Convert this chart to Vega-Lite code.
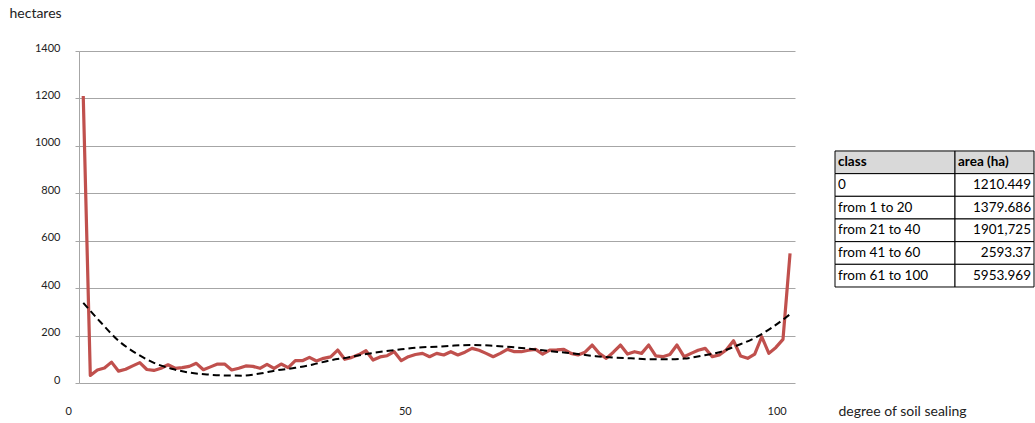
{
  "$schema": "https://vega.github.io/schema/vega-lite/v6.json",
  "autosize": {"type": "pad"},
  "padding": {"left": 9, "top": 6, "right": 0, "bottom": 0},
  "background": "white",
  "bounds": "flush",
  "spacing": 40,
  "config": {
    "view": {"stroke": null},
    "font": "Lato",
    "axis": {"labelFont": "Lato", "titleFont": "Lato"}
  },
  "datasets": {
    "sealing": [
      {"deg": 0, "ha": 1210}, {"deg": 1, "ha": 32}, {"deg": 2, "ha": 55}, {"deg": 3, "ha": 63}, {"deg": 4, "ha": 88},
      {"deg": 5, "ha": 50}, {"deg": 6, "ha": 58}, {"deg": 7, "ha": 72}, {"deg": 8, "ha": 86}, {"deg": 9, "ha": 57},
      {"deg": 10, "ha": 53}, {"deg": 11, "ha": 62}, {"deg": 12, "ha": 77}, {"deg": 13, "ha": 62}, {"deg": 14, "ha": 65},
      {"deg": 15, "ha": 70}, {"deg": 16, "ha": 83}, {"deg": 17, "ha": 56}, {"deg": 18, "ha": 68}, {"deg": 19, "ha": 80},
      {"deg": 20, "ha": 80}, {"deg": 21, "ha": 55}, {"deg": 22, "ha": 62}, {"deg": 23, "ha": 72}, {"deg": 24, "ha": 70},
      {"deg": 25, "ha": 62}, {"deg": 26, "ha": 79}, {"deg": 27, "ha": 62}, {"deg": 28, "ha": 80}, {"deg": 29, "ha": 65},
      {"deg": 30, "ha": 94}, {"deg": 31, "ha": 94}, {"deg": 32, "ha": 108}, {"deg": 33, "ha": 93}, {"deg": 34, "ha": 104},
      {"deg": 35, "ha": 110}, {"deg": 36, "ha": 139}, {"deg": 37, "ha": 100}, {"deg": 38, "ha": 108}, {"deg": 39, "ha": 120},
      {"deg": 40, "ha": 136}, {"deg": 41, "ha": 97}, {"deg": 42, "ha": 110}, {"deg": 43, "ha": 115}, {"deg": 44, "ha": 132},
      {"deg": 45, "ha": 94}, {"deg": 46, "ha": 111}, {"deg": 47, "ha": 120}, {"deg": 48, "ha": 125}, {"deg": 49, "ha": 111},
      {"deg": 50, "ha": 125}, {"deg": 51, "ha": 118}, {"deg": 52, "ha": 132}, {"deg": 53, "ha": 118}, {"deg": 54, "ha": 130},
      {"deg": 55, "ha": 146}, {"deg": 56, "ha": 138}, {"deg": 57, "ha": 125}, {"deg": 58, "ha": 111}, {"deg": 59, "ha": 125},
      {"deg": 60, "ha": 142}, {"deg": 61, "ha": 132}, {"deg": 62, "ha": 132}, {"deg": 63, "ha": 138}, {"deg": 64, "ha": 142},
      {"deg": 65, "ha": 122}, {"deg": 66, "ha": 139}, {"deg": 67, "ha": 140}, {"deg": 68, "ha": 142}, {"deg": 69, "ha": 125},
      {"deg": 70, "ha": 118}, {"deg": 71, "ha": 130}, {"deg": 72, "ha": 160}, {"deg": 73, "ha": 125}, {"deg": 74, "ha": 104},
      {"deg": 75, "ha": 130}, {"deg": 76, "ha": 160}, {"deg": 77, "ha": 122}, {"deg": 78, "ha": 132}, {"deg": 79, "ha": 125},
      {"deg": 80, "ha": 160}, {"deg": 81, "ha": 114}, {"deg": 82, "ha": 111}, {"deg": 83, "ha": 120}, {"deg": 84, "ha": 160},
      {"deg": 85, "ha": 111}, {"deg": 86, "ha": 125}, {"deg": 87, "ha": 138}, {"deg": 88, "ha": 146}, {"deg": 89, "ha": 111},
      {"deg": 90, "ha": 118}, {"deg": 91, "ha": 140}, {"deg": 92, "ha": 178}, {"deg": 93, "ha": 114}, {"deg": 94, "ha": 104},
      {"deg": 95, "ha": 122}, {"deg": 96, "ha": 195}, {"deg": 97, "ha": 125}, {"deg": 98, "ha": 150}, {"deg": 99, "ha": 184},
      {"deg": 100, "ha": 547}
    ],
    "trend": [
      {"deg": 0, "ha": 338}, {"deg": 2.5, "ha": 255}, {"deg": 5, "ha": 178}, {"deg": 7.5, "ha": 125}, {"deg": 10, "ha": 85},
      {"deg": 12.5, "ha": 60}, {"deg": 15, "ha": 44}, {"deg": 17.5, "ha": 36}, {"deg": 20, "ha": 32}, {"deg": 22.5, "ha": 31},
      {"deg": 25, "ha": 40}, {"deg": 27.5, "ha": 54}, {"deg": 30, "ha": 64}, {"deg": 32.5, "ha": 78}, {"deg": 35, "ha": 96},
      {"deg": 37.5, "ha": 108}, {"deg": 40, "ha": 122}, {"deg": 42.5, "ha": 133}, {"deg": 45, "ha": 142}, {"deg": 47.5, "ha": 150},
      {"deg": 50, "ha": 153}, {"deg": 52.5, "ha": 158}, {"deg": 55, "ha": 160}, {"deg": 57.5, "ha": 158}, {"deg": 60, "ha": 153},
      {"deg": 62.5, "ha": 146}, {"deg": 65, "ha": 138}, {"deg": 67.5, "ha": 130}, {"deg": 70, "ha": 122}, {"deg": 72.5, "ha": 113},
      {"deg": 75, "ha": 107}, {"deg": 77.5, "ha": 104}, {"deg": 80, "ha": 100}, {"deg": 82.5, "ha": 100}, {"deg": 85, "ha": 103},
      {"deg": 87.5, "ha": 115}, {"deg": 90, "ha": 130}, {"deg": 92.5, "ha": 158}, {"deg": 95, "ha": 190}, {"deg": 97.5, "ha": 235},
      {"deg": 100, "ha": 290}
    ],
    "table": [
      {"row": 0, "kind": "header", "class": "class", "area": "area (ha)"},
      {"row": 1, "kind": "data", "class": "0", "area": "1210.449"},
      {"row": 2, "kind": "data", "class": "from 1 to 20", "area": "1379.686"},
      {"row": 3, "kind": "data", "class": "from 21 to 40", "area": "1901,725"},
      {"row": 4, "kind": "data", "class": "from 41 to 60", "area": "2593.37"},
      {"row": 5, "kind": "data", "class": "from 61 to 100", "area": "5953.969"}
    ]
  },
  "hconcat": [
    {
      "width": 716,
      "height": 332,
      "layer": [
        {
          "data": {"name": "sealing"},
          "mark": {"type": "line", "color": "#c0504d", "strokeWidth": 3.2, "strokeJoin": "round"},
          "encoding": {
            "x": {
              "field": "deg", "type": "quantitative",
              "scale": {"domain": [-0.6, 100.7], "nice": false, "zero": false},
              "axis": {
                "values": [0, 45.5, 98.1],
                "labelExpr": "datum.value < 10 ? '0' : datum.value < 60 ? '50' : '100'",
                "labelOffset": {"condition": {"test": "datum.value < 10", "value": -15}, "value": 0},
                "grid": false, "ticks": false, "tickSize": 0, "domain": false,
                "labelPadding": 22, "labelBaseline": "top", "labelFontSize": 11, "labelColor": "#222",
                "labelFlush": false, "labelOverlap": false, "labelBound": false,
                "title": "degree of soil sealing", "titleX": 759, "titleY": 28, "titleAlign": "left",
                "titleBaseline": "middle", "titleFontWeight": "normal", "titleFontSize": 14, "titleColor": "#222"
              }
            },
            "y": {
              "field": "ha", "type": "quantitative",
              "scale": {"domain": [0, 1400], "nice": false},
              "axis": {
                "values": [0, 200, 400, 600, 800, 1000, 1200, 1400],
                "format": "d",
                "grid": true, "gridColor": "#a6a6a6", "gridWidth": 1,
                "domain": true, "domainColor": "#a6a6a6",
                "ticks": true, "tickColor": "#a6a6a6", "tickSize": 4,
                "labelPadding": 15, "labelBaseline": "alphabetic", "labelFontSize": 11, "labelColor": "#222",
                "labelOverlap": false, "labelFlush": false, "labelBound": false,
                "title": "hectares", "titleAngle": 0, "titleX": -70, "titleY": -34, "titleAlign": "left",
                "titleBaseline": "alphabetic", "titleFontWeight": "normal", "titleFontSize": 14, "titleColor": "#222"
              }
            }
          }
        },
        {
          "data": {"name": "trend"},
          "mark": {"type": "line", "color": "#000000", "strokeWidth": 2, "strokeDash": [7, 4], "interpolate": "monotone"},
          "encoding": {
            "x": {"field": "deg", "type": "quantitative"},
            "y": {"field": "ha", "type": "quantitative"}
          }
        }
      ]
    },
    {
      "bounds": "flush",
      "spacing": 0,
      "hconcat": [
        {
          "width": 120,
          "height": 332,
          "data": {"name": "table"},
          "encoding": {
            "y": {
              "field": "row", "type": "quantitative",
              "scale": {"domain": [-4.91, 9.735], "reverse": true, "nice": false, "zero": false},
              "axis": null
            }
          },
          "layer": [
            {
              "mark": {"type": "rect", "stroke": "#000000", "strokeWidth": 1, "height": 22.67},
              "encoding": {
                "fill": {"field": "kind", "type": "nominal", "scale": {"domain": ["header", "data"], "range": ["#d9d9d9", "#ffffff"]}, "legend": null}
              }
            },
            {
              "transform": [{"filter": "datum.kind === 'header'"}],
              "mark": {"type": "text", "align": "left", "baseline": "middle", "dx": -57, "fontSize": 13.5, "fontWeight": "bold", "color": "#000"},
              "encoding": {"text": {"field": "class"}}
            },
            {
              "transform": [{"filter": "datum.kind !== 'header'"}],
              "mark": {"type": "text", "align": "left", "baseline": "middle", "dx": -57, "fontSize": 13.5, "color": "#000"},
              "encoding": {"text": {"field": "class"}}
            }
          ]
        },
        {
          "width": 79,
          "height": 332,
          "data": {"name": "table"},
          "encoding": {
            "y": {
              "field": "row", "type": "quantitative",
              "scale": {"domain": [-4.91, 9.735], "reverse": true, "nice": false, "zero": false},
              "axis": null
            }
          },
          "layer": [
            {
              "mark": {"type": "rect", "stroke": "#000000", "strokeWidth": 1, "height": 22.67},
              "encoding": {
                "fill": {"field": "kind", "type": "nominal", "scale": {"domain": ["header", "data"], "range": ["#d9d9d9", "#ffffff"]}, "legend": null}
              }
            },
            {
              "transform": [{"filter": "datum.kind === 'header'"}],
              "mark": {"type": "text", "align": "left", "baseline": "middle", "dx": -36.5, "fontSize": 13.5, "fontWeight": "bold", "color": "#000"},
              "encoding": {"text": {"field": "area"}}
            },
            {
              "transform": [{"filter": "datum.kind !== 'header'"}],
              "mark": {"type": "text", "align": "right", "baseline": "middle", "dx": 36.5, "fontSize": 13.5, "color": "#000"},
              "encoding": {"text": {"field": "area"}}
            }
          ]
        }
      ]
    }
  ]
}
